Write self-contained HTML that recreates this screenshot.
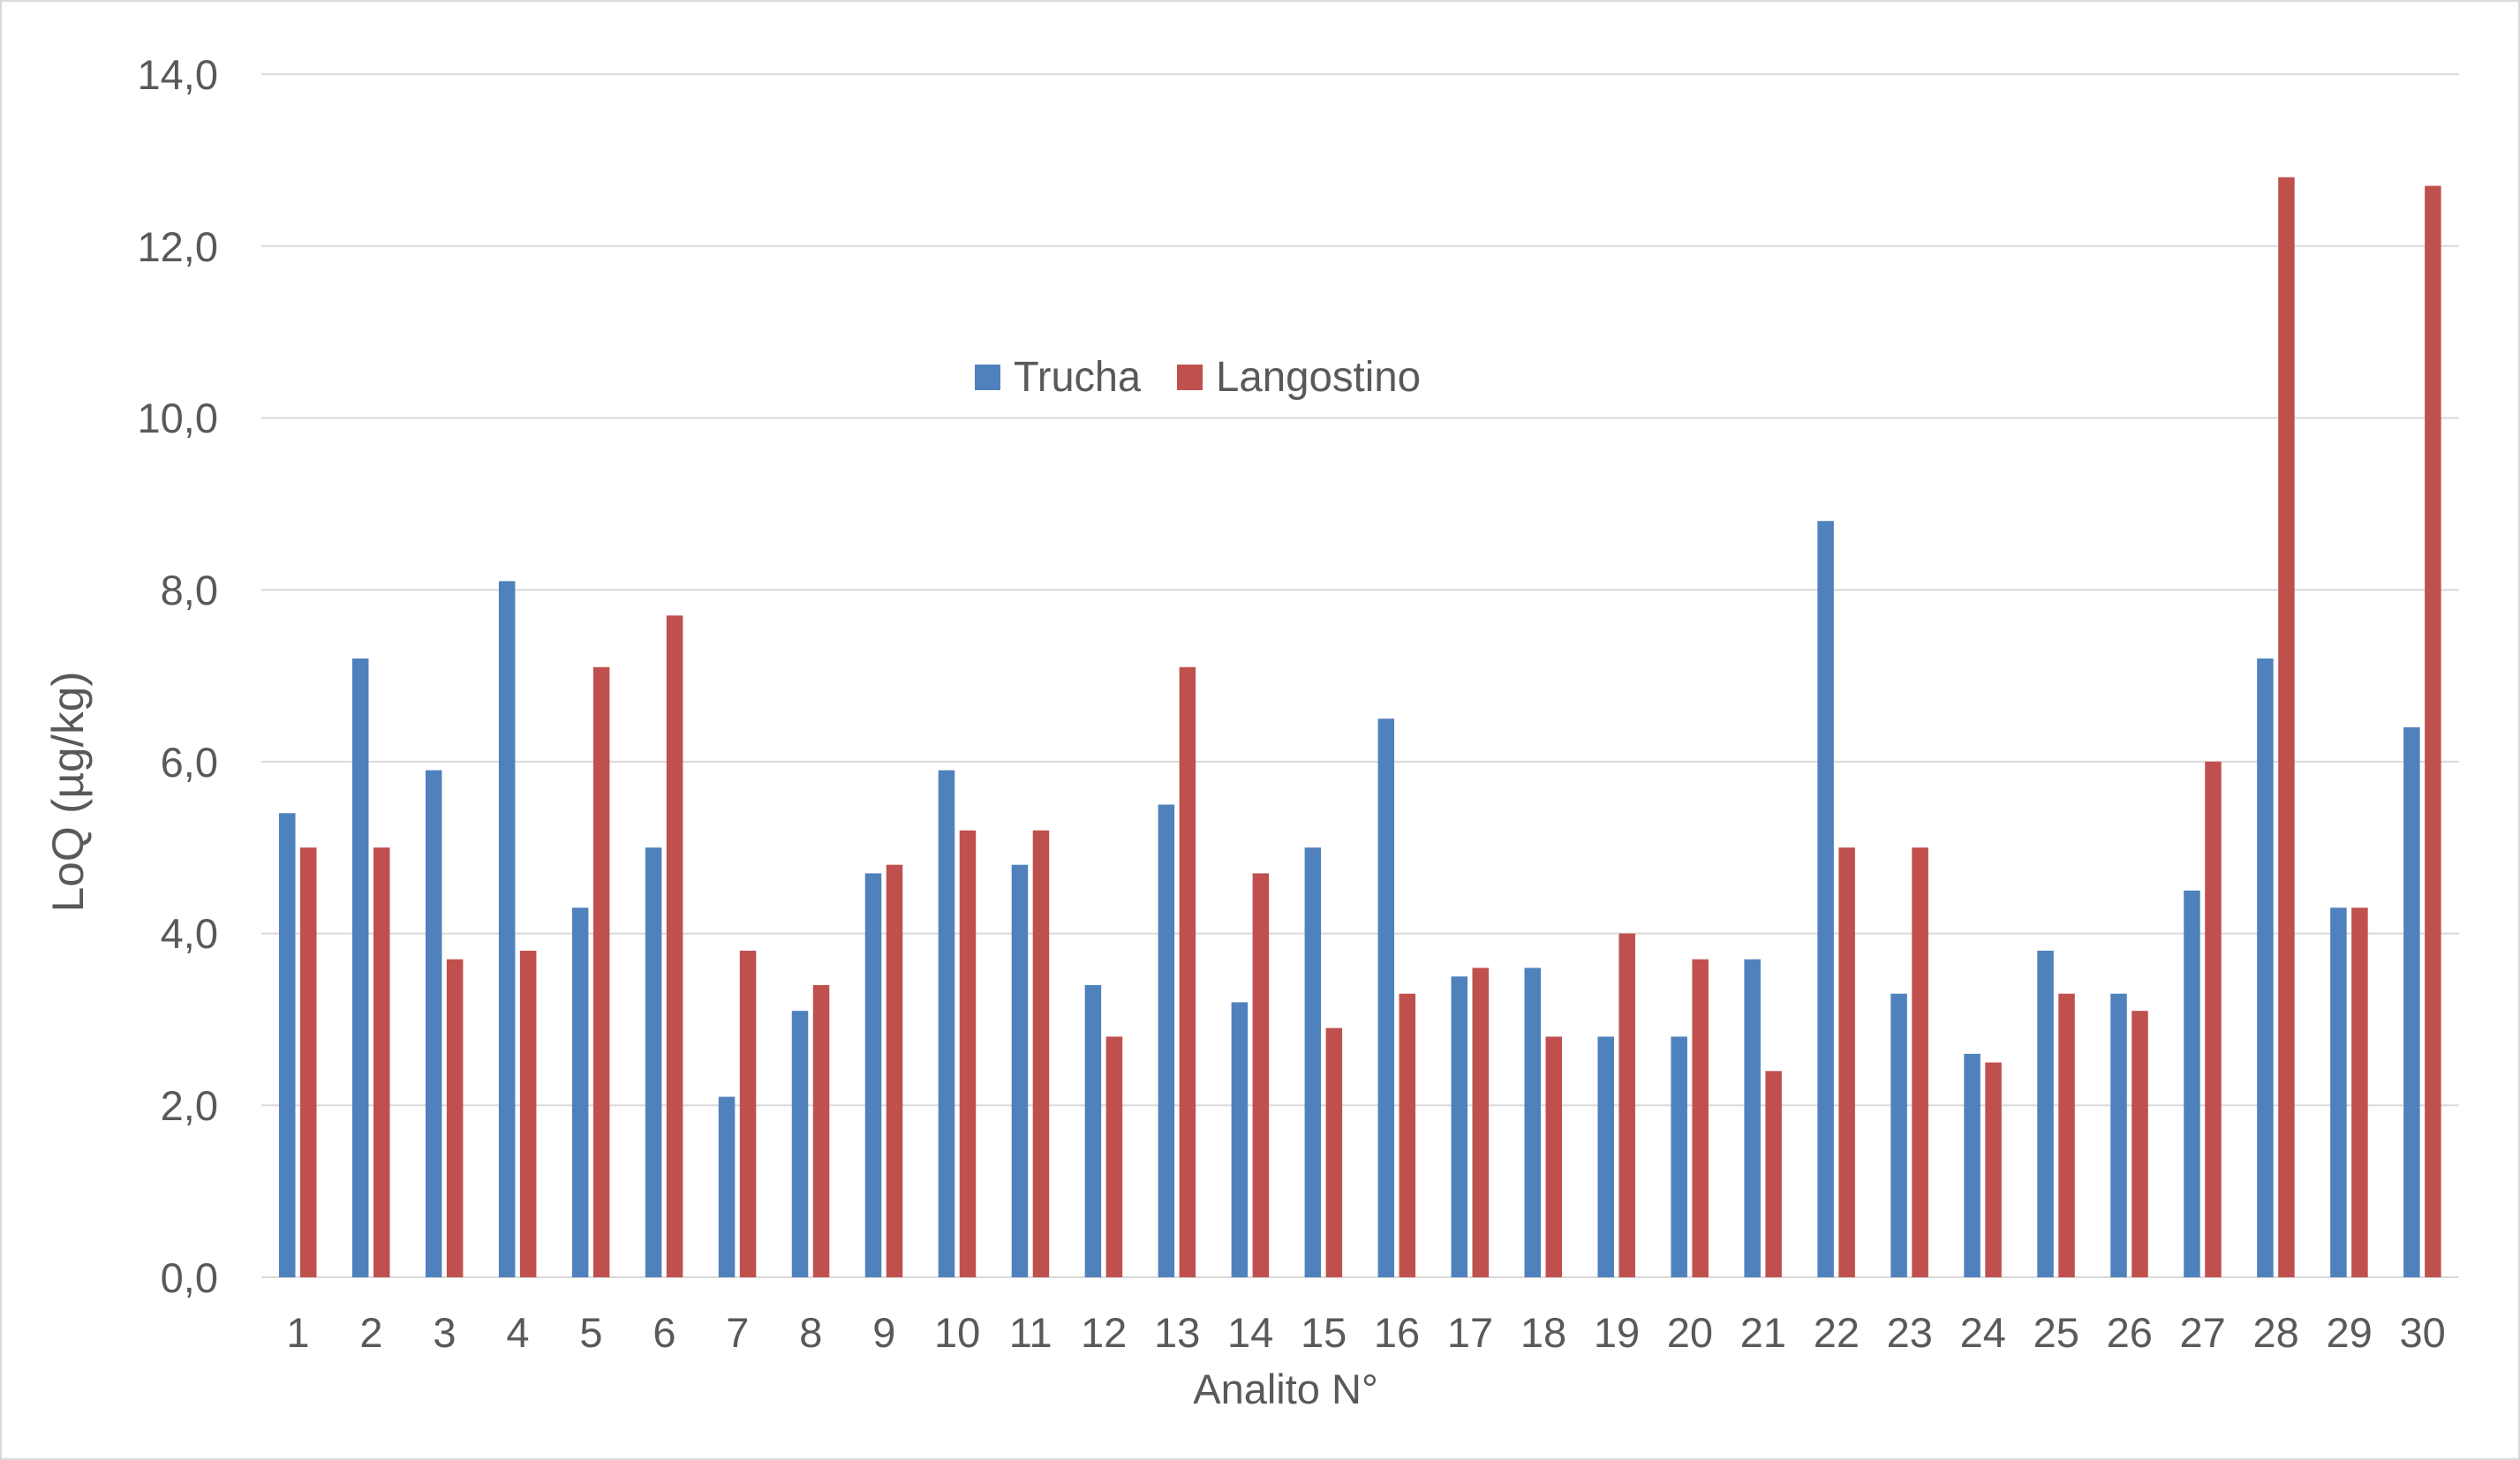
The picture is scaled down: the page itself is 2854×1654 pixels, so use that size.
<!DOCTYPE html>
<html><head><meta charset="utf-8"><style>html,body{margin:0;padding:0;background:#fff}svg{display:block}</style></head>
<body>
<svg width="2854" height="1654" xmlns="http://www.w3.org/2000/svg" font-family="'Liberation Sans', sans-serif" fill="#595959">
<rect x="1" y="1" width="2852" height="1652" fill="#fff" stroke="#d9d9d9" stroke-width="2"/>
<g stroke="#d9d9d9" stroke-width="2">
<line x1="296" x2="2785" y1="84.1" y2="84.1"/><line x1="296" x2="2785" y1="278.8" y2="278.8"/>
<line x1="296" x2="2785" y1="473.5" y2="473.5"/><line x1="296" x2="2785" y1="668.2" y2="668.2"/>
<line x1="296" x2="2785" y1="862.9" y2="862.9"/><line x1="296" x2="2785" y1="1057.6" y2="1057.6"/>
<line x1="296" x2="2785" y1="1252.3" y2="1252.3"/><line x1="296" x2="2785" y1="1447" y2="1447"/>
</g>
<g font-size="47" text-anchor="end">
<text x="247" y="101">14,0</text><text x="247" y="296">12,0</text><text x="247" y="490">10,0</text>
<text x="247" y="685">8,0</text><text x="247" y="880">6,0</text><text x="247" y="1074">4,0</text>
<text x="247" y="1269">2,0</text><text x="247" y="1464">0,0</text>
</g>
<g transform="translate(0,1447) scale(1,-97.36)">
<g fill="#4F81BD">
<rect x="316" y="0" width="18.5" height="5.4"/><rect x="398.97" y="0" width="18.5" height="7.2"/><rect x="481.94" y="0" width="18.5" height="5.9"/><rect x="564.91" y="0" width="18.5" height="8.1"/><rect x="647.88" y="0" width="18.5" height="4.3"/><rect x="730.85" y="0" width="18.5" height="5.0"/><rect x="813.82" y="0" width="18.5" height="2.1"/><rect x="896.79" y="0" width="18.5" height="3.1"/><rect x="979.76" y="0" width="18.5" height="4.7"/><rect x="1062.73" y="0" width="18.5" height="5.9"/><rect x="1145.7" y="0" width="18.5" height="4.8"/><rect x="1228.67" y="0" width="18.5" height="3.4"/><rect x="1311.64" y="0" width="18.5" height="5.5"/><rect x="1394.61" y="0" width="18.5" height="3.2"/><rect x="1477.58" y="0" width="18.5" height="5.0"/><rect x="1560.55" y="0" width="18.5" height="6.5"/><rect x="1643.52" y="0" width="18.5" height="3.5"/><rect x="1726.49" y="0" width="18.5" height="3.6"/><rect x="1809.46" y="0" width="18.5" height="2.8"/><rect x="1892.43" y="0" width="18.5" height="2.8"/><rect x="1975.4" y="0" width="18.5" height="3.7"/><rect x="2058.37" y="0" width="18.5" height="8.8"/><rect x="2141.34" y="0" width="18.5" height="3.3"/><rect x="2224.31" y="0" width="18.5" height="2.6"/><rect x="2307.28" y="0" width="18.5" height="3.8"/><rect x="2390.25" y="0" width="18.5" height="3.3"/><rect x="2473.22" y="0" width="18.5" height="4.5"/><rect x="2556.19" y="0" width="18.5" height="7.2"/><rect x="2639.16" y="0" width="18.5" height="4.3"/><rect x="2722.13" y="0" width="18.5" height="6.4"/>
</g>
<g fill="#C0504D">
<rect x="340" y="0" width="18.5" height="5.0"/><rect x="422.97" y="0" width="18.5" height="5.0"/><rect x="505.94" y="0" width="18.5" height="3.7"/><rect x="588.91" y="0" width="18.5" height="3.8"/><rect x="671.88" y="0" width="18.5" height="7.1"/><rect x="754.85" y="0" width="18.5" height="7.7"/><rect x="837.82" y="0" width="18.5" height="3.8"/><rect x="920.79" y="0" width="18.5" height="3.4"/><rect x="1003.76" y="0" width="18.5" height="4.8"/><rect x="1086.73" y="0" width="18.5" height="5.2"/><rect x="1169.7" y="0" width="18.5" height="5.2"/><rect x="1252.67" y="0" width="18.5" height="2.8"/><rect x="1335.64" y="0" width="18.5" height="7.1"/><rect x="1418.61" y="0" width="18.5" height="4.7"/><rect x="1501.58" y="0" width="18.5" height="2.9"/><rect x="1584.55" y="0" width="18.5" height="3.3"/><rect x="1667.52" y="0" width="18.5" height="3.6"/><rect x="1750.49" y="0" width="18.5" height="2.8"/><rect x="1833.46" y="0" width="18.5" height="4.0"/><rect x="1916.43" y="0" width="18.5" height="3.7"/><rect x="1999.4" y="0" width="18.5" height="2.4"/><rect x="2082.37" y="0" width="18.5" height="5.0"/><rect x="2165.34" y="0" width="18.5" height="5.0"/><rect x="2248.31" y="0" width="18.5" height="2.5"/><rect x="2331.28" y="0" width="18.5" height="3.3"/><rect x="2414.25" y="0" width="18.5" height="3.1"/><rect x="2497.22" y="0" width="18.5" height="6.0"/><rect x="2580.19" y="0" width="18.5" height="12.8"/><rect x="2663.16" y="0" width="18.5" height="4.3"/><rect x="2746.13" y="0" width="18.5" height="12.7"/>
</g>
</g>
<g font-size="47" text-anchor="middle">
<text x="337.5" y="1526">1</text><text x="420.5" y="1526">2</text><text x="503.4" y="1526">3</text><text x="586.4" y="1526">4</text><text x="669.4" y="1526">5</text><text x="752.4" y="1526">6</text><text x="835.3" y="1526">7</text><text x="918.3" y="1526">8</text><text x="1001.3" y="1526">9</text><text x="1084.2" y="1526">10</text><text x="1167.2" y="1526">11</text><text x="1250.2" y="1526">12</text><text x="1333.1" y="1526">13</text><text x="1416.1" y="1526">14</text><text x="1499.1" y="1526">15</text><text x="1582" y="1526">16</text><text x="1665" y="1526">17</text><text x="1748" y="1526">18</text><text x="1831" y="1526">19</text><text x="1913.9" y="1526">20</text><text x="1996.9" y="1526">21</text><text x="2079.9" y="1526">22</text><text x="2162.8" y="1526">23</text><text x="2245.8" y="1526">24</text><text x="2328.8" y="1526">25</text><text x="2411.8" y="1526">26</text><text x="2494.7" y="1526">27</text><text x="2577.7" y="1526">28</text><text x="2660.7" y="1526">29</text><text x="2743.6" y="1526">30</text>
</g>
<text x="1456" y="1590" font-size="47" text-anchor="middle">Analito  N°</text>
<text transform="translate(94,897) rotate(-90)" font-size="50" text-anchor="middle" textLength="273" lengthAdjust="spacingAndGlyphs">LoQ (µg/kg)</text>
<rect x="1104" y="413" width="29" height="29" fill="#4F81BD"/>
<text x="1148" y="443" font-size="48" textLength="144" lengthAdjust="spacingAndGlyphs">Trucha</text>
<rect x="1333" y="413" width="29" height="29" fill="#C0504D"/>
<text x="1377" y="443" font-size="48" textLength="232" lengthAdjust="spacingAndGlyphs">Langostino</text>
</svg>
</body></html>
